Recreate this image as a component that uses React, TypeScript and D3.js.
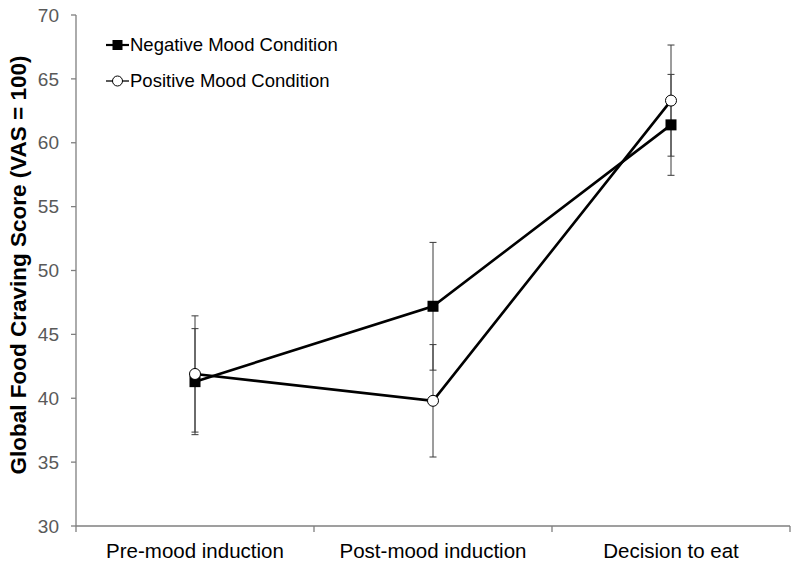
import React from "react";
import * as d3 from "d3";

const categories = ["Pre-mood induction", "Post-mood induction", "Decision to eat"];
const negativeMeans = [41.3, 47.2, 61.4];
const negativeErr = [4.15, 5.0, 3.95];
const positiveMeans = [41.9, 39.8, 63.3];
const positiveErr = [4.55, 4.4, 4.35];
const yTicks = [30, 35, 40, 45, 50, 55, 60, 65, 70];
const seriesNames = ["Negative Mood Condition", "Positive Mood Condition"];

const FONT = "'Liberation Sans', Arial, sans-serif";

export default function App() {
  const W = 800;
  const H = 569;
  const plotLeft = 76;
  const plotRight = 790;
  const plotTop = 15;
  const plotBottom = 526;

  const y = d3.scaleLinear().domain([30, 70]).range([plotBottom, plotTop]);
  const x = d3.scaleBand().domain(categories).range([plotLeft, plotRight]);
  const cx = (c: string) => (x(c) as number) + x.bandwidth() / 2;

  const line = d3
    .line<number>()
    .x((_, i) => cx(categories[i]))
    .y((d) => y(d));

  const tickEdges = [...categories.map((c) => x(c) as number), plotRight];

  const errBar = (means: number[], errs: number[], key: string) =>
    means.map((m, i) => {
      const xc = cx(categories[i]);
      const hi = y(m + errs[i]);
      const lo = y(m - errs[i]);
      return (
        <g key={key + i} stroke="#3a3a3a" strokeWidth={1}>
          <line x1={xc} x2={xc} y1={hi} y2={lo} />
          <line x1={xc - 3.5} x2={xc + 3.5} y1={hi} y2={hi} />
          <line x1={xc - 3.5} x2={xc + 3.5} y1={lo} y2={lo} />
        </g>
      );
    });

  return (
    <svg
      width={W}
      height={H}
      style={{ position: "absolute", left: 0, top: 0, background: "#fff" }}
      fontFamily={FONT}
    >
      <rect x={0} y={0} width={W} height={H} fill="#fff" />
      {/* Y axis */}
      <line x1={plotLeft} x2={plotLeft} y1={plotTop} y2={plotBottom} stroke="#7f7f7f" strokeWidth={1.3} />
      {yTicks.map((t) => (
        <g key={"yt" + t}>
          <line x1={plotLeft - 5} x2={plotLeft} y1={y(t)} y2={y(t)} stroke="#7f7f7f" strokeWidth={1.3} />
          <text x={59} y={y(t)} dy="0.35em" textAnchor="end" fontSize={19} fill="#595959">
            {t}
          </text>
        </g>
      ))}
      {/* X axis */}
      <line x1={plotLeft} x2={plotRight} y1={plotBottom} y2={plotBottom} stroke="#7f7f7f" strokeWidth={1.3} />
      {tickEdges.map((t, i) => (
        <line key={"xt" + i} x1={t} x2={t} y1={plotBottom} y2={plotBottom + 6} stroke="#7f7f7f" strokeWidth={1.3} />
      ))}
      {categories.map((c) => (
        <text key={c} x={cx(c)} y={558} textAnchor="middle" fontSize={20.5} fill="#000">
          {c}
        </text>
      ))}
      {/* Y title */}
      <text
        transform={`translate(26, 265) rotate(-90)`}
        textAnchor="middle"
        fontSize={22.5}
        fontWeight="bold"
        fill="#000"
      >
        Global Food Craving Score (VAS = 100)
      </text>

      {/* Error bars */}
      {errBar(negativeMeans, negativeErr, "ne")}
      {errBar(positiveMeans, positiveErr, "pe")}

      {/* Lines */}
      <path d={line(negativeMeans) ?? ""} fill="none" stroke="#000" strokeWidth={2.6} />
      <path d={line(positiveMeans) ?? ""} fill="none" stroke="#000" strokeWidth={2.6} />

      {/* Markers */}
      {negativeMeans.map((m, i) => (
        <rect key={"nm" + i} x={cx(categories[i]) - 5.5} y={y(m) - 5.5} width={11} height={11} fill="#000" />
      ))}
      {positiveMeans.map((m, i) => (
        <circle key={"pm" + i} cx={cx(categories[i])} cy={y(m)} r={5.5} fill="#fff" stroke="#000" strokeWidth={1} />
      ))}

      {/* Legend */}
      <g>
        <line x1={106} x2={129} y1={45} y2={45} stroke="#000" strokeWidth={2.2} />
        <rect x={112.5} y={40} width={10} height={10} fill="#000" />
        <text x={130} y={45} dy="0.35em" fontSize={18.5} fill="#000">
          {seriesNames[0]}
        </text>
        <line x1={106} x2={129} y1={81} y2={81} stroke="#000" strokeWidth={1.3} />
        <circle cx={117.5} cy={81} r={5} fill="#fff" stroke="#000" strokeWidth={1} />
        <text x={130} y={81} dy="0.35em" fontSize={18.5} fill="#000">
          {seriesNames[1]}
        </text>
      </g>
    </svg>
  );
}
